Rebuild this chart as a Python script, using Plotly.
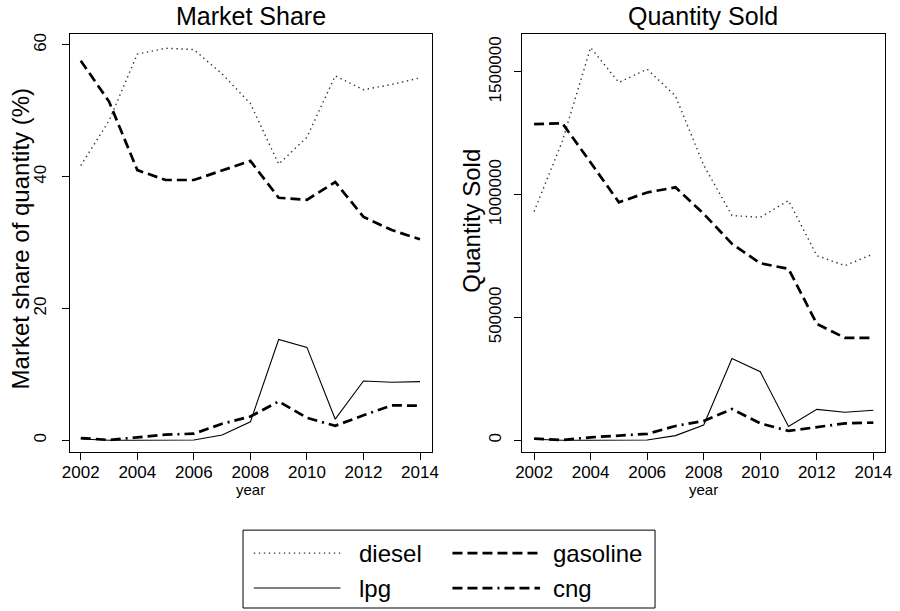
import plotly.graph_objects as go

# Fuel market data, 2002-2014
years = list(range(2002, 2015))

share_diesel = [41.7, 48.5, 58.6, 59.5, 59.3, 55.6, 51.1, 41.9, 46.0, 55.3, 53.2, 54.0, 55.0]
share_gasoline = [57.6, 51.4, 41.0, 39.5, 39.5, 41.0, 42.4, 36.8, 36.5, 39.2, 33.9, 31.9, 30.5]
share_lpg = [0.2, 0.0, 0.0, 0.05, 0.05, 0.8, 2.8, 15.3, 14.1, 3.2, 9.0, 8.8, 8.9]
share_cng = [0.35, 0.05, 0.45, 0.85, 1.0, 2.5, 3.6, 5.9, 3.4, 2.2, 3.8, 5.3, 5.25]

qty_diesel = [931000, 1218000, 1599000, 1457000, 1511000, 1402000, 1120000, 915000, 908000, 976000, 752000, 711000, 759000]
qty_gasoline = [1287000, 1291000, 1131000, 969000, 1009000, 1030000, 922000, 800000, 721000, 698000, 474000, 417000, 417000]
qty_lpg = [4000, 0, 0, 500, 1000, 19000, 62000, 333000, 279000, 56000, 126000, 114000, 122000]
qty_cng = [7000, 1000, 12000, 19000, 26000, 58000, 79000, 127000, 69000, 38000, 53000, 69000, 72000]

fuel_names = ["diesel", "gasoline", "lpg", "cng"]
x_ticks = [2002, 2004, 2006, 2008, 2010, 2012, 2014]
share_ticks = [0, 20, 40, 60]
qty_ticks = [0, 500000, 1000000, 1500000]
qty_tick_text = ["0", "500000", "1000000", "1500000"]

FONT = "Liberation Sans, Arial, sans-serif"
W, H = 900, 611

styles = {
    "diesel": dict(color="#333333", width=1.4, dash="1.4px,3.6px"),
    "gasoline": dict(color="black", width=2.7, dash="10px,5px"),
    "lpg": dict(color="black", width=1.1, dash="solid"),
    "cng": dict(color="black", width=2.7, dash="10px,5px,10px,5px,10px,5px,2px,5px"),
}

fig = go.Figure()

share_series = [share_diesel, share_gasoline, share_lpg, share_cng]
qty_series = [qty_diesel, qty_gasoline, qty_lpg, qty_cng]

for name, vals in zip(fuel_names, share_series):
    fig.add_trace(go.Scatter(x=years, y=vals, mode="lines", name=name,
                             line=styles[name], xaxis="x", yaxis="y",
                             showlegend=False))
for name, vals in zip(fuel_names, qty_series):
    fig.add_trace(go.Scatter(x=years, y=vals, mode="lines", name=name,
                             line=styles[name], xaxis="x2", yaxis="y2",
                             showlegend=False))


def px_x(v):
    return v / W


def px_y(v):
    return 1 - v / H


axis_common = dict(
    showline=True, mirror=True, linecolor="black", linewidth=1,
    ticks="outside", ticklen=7, tickwidth=1, tickcolor="black",
    showgrid=False, zeroline=False,
    tickfont=dict(family=FONT, size=17, color="black"),
)

fig.update_layout(
    width=W, height=H, autosize=False,
    margin=dict(l=0, r=0, t=0, b=0),
    paper_bgcolor="white", plot_bgcolor="white",
    font=dict(family=FONT, color="black"),
    xaxis=dict(domain=[px_x(63), px_x(431)], range=[2001.617, 2014.417],
               tickvals=x_ticks, anchor="y", ticklabelstandoff=-3,
               **axis_common),
    yaxis=dict(domain=[px_y(452), px_y(33)], range=[-1.818, 61.667],
               tickvals=share_ticks, tickangle=-90, anchor="x",
               ticklabelstandoff=9, **axis_common),
    xaxis2=dict(domain=[px_x(523), px_x(892)], range=[2001.583, 2014.417],
                tickvals=x_ticks, anchor="y2", ticklabelstandoff=-3,
                **axis_common),
    yaxis2=dict(domain=[px_y(452), px_y(33)], range=[-48780, 1654470],
                tickvals=qty_ticks, ticktext=qty_tick_text, tickangle=-90,
                anchor="x2", ticklabelstandoff=6, **axis_common),
)

annotations = []


def text(x, y, s, size, angle=0, xanchor="center"):
    annotations.append(dict(x=px_x(x), y=px_y(y), xref="paper", yref="paper",
                            text=s, showarrow=False, textangle=angle,
                            xanchor=xanchor, yanchor="middle",
                            font=dict(family=FONT, size=size, color="black")))


# Panel titles
text(247, 15, "Market Share", 25)
text(707, 15, "Quantity Sold", 25)
# Axis titles
text(13, 238, "Market share of quantity (%)", 24, angle=-90)
text(471, 220, "Quantity Sold", 24, angle=-90)
text(247, 489, "year", 15)
text(707, 489, "year", 15)

# Legend
shapes = [dict(type="rect", xref="paper", yref="paper",
               x0=px_x(239), x1=px_x(658), y0=px_y(608), y1=px_y(530),
               line=dict(color="black", width=1), fillcolor="white")]
legend_slots = {
    "diesel": (250, 338, 553, 355),
    "gasoline": (452, 541, 553, 552),
    "lpg": (250, 338, 588, 355),
    "cng": (452, 541, 588, 552),
}
for name in fuel_names:
    x0, x1, y, tx = legend_slots[name]
    shapes.append(dict(type="line", xref="paper", yref="paper",
                       x0=px_x(x0), x1=px_x(x1), y0=px_y(y), y1=px_y(y),
                       line=styles[name]))
    text(tx, y, name, 24, xanchor="left")

fig.update_layout(annotations=annotations, shapes=shapes)

fig.write_html("out.html")
